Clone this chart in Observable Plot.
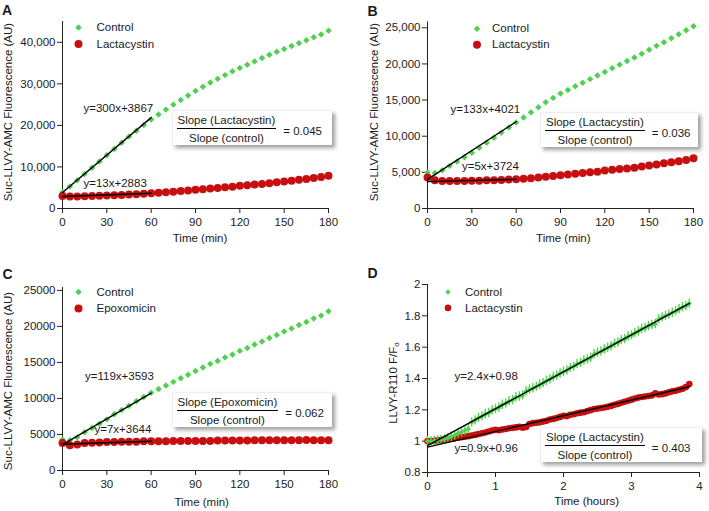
<!DOCTYPE html>
<html><head><meta charset="utf-8">
<script src="https://cdn.jsdelivr.net/npm/d3@7"></script>
<script src="https://cdn.jsdelivr.net/npm/@observablehq/plot@0.6"></script>
<style>
body{margin:0;background:#fff;}
#root{position:relative;width:709px;height:511px;font-family:"Liberation Sans",Arial,sans-serif;color:#1a1a1a;overflow:hidden;background:#fff}
.panel{position:absolute}
.letter{position:absolute;font-weight:bold;font-size:14px;line-height:1}
.ylab{position:absolute;transform:translate(-50%,-50%) rotate(-90deg);font-size:11.5px;white-space:nowrap;line-height:1}
.xlab{position:absolute;transform:translate(-50%,-50%);font-size:11.5px;white-space:nowrap;line-height:1}
.ylab sub{font-size:8px;vertical-align:-2px}
.ratio{position:absolute;background:#fff;box-shadow:3px 3px 4px rgba(0,0,0,0.38);display:flex;align-items:flex-start;font-size:11.5px;box-sizing:border-box;padding-left:4px;padding-top:2px;height:35px;border-top:1px solid #eee;border-left:1px solid #eee}
.frac{display:flex;flex-direction:column;align-items:center}
.num{border-bottom:1px solid #000;line-height:15px;padding:0 1px}
.den{line-height:14px;padding-top:2px}
.eq{margin-left:7px;margin-top:11px;line-height:14px}
</style>
</head><body>
<div id="root"></div>
<script>
// ---------- data ----------
const timeMin = [0,5,10,15,20,25,30,35,40,45,50,55,60,65,70,75,80,85,90,95,100,105,110,115,120,125,130,135,140,145,150,155,160,165,170,175,180];
const controlA = [3900,5300,6800,8300,9800,11300,12800,14300,15800,17300,18700,20100,21400,22600,23800,25000,26100,27200,28300,29300,30300,31200,32100,33000,33800,34600,35400,36200,37000,37700,38400,39100,39800,40500,41200,41900,42800];
const lactacystinA = [3000,2900,2900,2950,3000,3050,3100,3200,3250,3350,3450,3550,3650,3800,3900,4050,4200,4350,4500,4650,4800,4950,5100,5250,5450,5600,5750,5900,6100,6300,6500,6700,6900,7100,7350,7600,7900];
const controlB = [5000,4900,5300,5900,6500,7100,7700,8400,9100,9800,10500,11200,11900,12600,13300,14000,14700,15300,15900,16400,16900,17400,17900,18400,18900,19400,19900,20400,20900,21400,21950,22500,23000,23550,24100,24650,25200];
const lactacystinB = [4300,3900,3800,3800,3800,3800,3850,3850,3900,3900,3950,4000,4050,4100,4200,4300,4400,4500,4600,4700,4800,4900,5000,5100,5250,5350,5450,5550,5650,5800,5950,6100,6250,6400,6550,6700,6950];
const controlC = [4300,4200,4600,5300,5900,6500,7100,7800,8400,9000,9600,10200,10800,11300,11800,12300,12800,13300,13800,14300,14800,15200,15700,16100,16600,17000,17500,17900,18400,18800,19300,19700,20200,20600,21100,21500,22100];
const epoxomicinC = [3800,3500,3600,3800,3850,3900,3950,3950,4000,4000,4000,4050,4050,4050,4050,4100,4100,4100,4100,4100,4100,4150,4150,4150,4150,4150,4200,4200,4200,4200,4200,4200,4200,4250,4200,4200,4200];
const timeHours = [0,0.05,0.1,0.15,0.2,0.25,0.3,0.35,0.4,0.45,0.5,0.55,0.6,0.65,0.7,0.75,0.8,0.85,0.9,0.95,1,1.05,1.1,1.15,1.2,1.25,1.3,1.35,1.4,1.45,1.5,1.55,1.6,1.65,1.7,1.75,1.8,1.85,1.9,1.95,2,2.05,2.1,2.15,2.2,2.25,2.3,2.35,2.4,2.45,2.5,2.55,2.6,2.65,2.7,2.75,2.8,2.85,2.9,2.95,3,3.05,3.1,3.15,3.2,3.25,3.3,3.35,3.4,3.45,3.5,3.55,3.6,3.65,3.7,3.75,3.8,3.85];
const controlD = [1.000,1.000,1.003,1.005,1.008,1.012,1.020,1.028,1.038,1.050,1.058,1.068,1.078,
 1.120,1.133,1.148,1.158,1.172,1.180,1.196,1.205,1.215,1.232,
 1.240,1.255,1.262,1.280,1.285,1.292,1.318,1.330,1.338,1.348,
 1.360,1.370,1.385,1.395,1.410,1.418,1.432,1.443,1.452,1.468,
 1.476,1.492,1.500,1.515,1.522,1.532,1.555,1.565,1.572,1.585,
 1.596,1.606,1.622,1.630,1.645,1.652,1.668,1.676,1.690,1.700,
 1.716,1.722,1.735,1.742,1.748,1.778,1.790,1.800,1.808,1.820,
 1.830,1.842,1.855,1.862,1.878];
const lactacystinD = [1.000,1.000,1.002,1.005,1.008,1.010,1.013,1.015,1.018,1.022,
 1.025,1.028,1.032,1.036,1.040,1.045,1.050,1.055,1.062,1.068,
 1.072,1.070,1.074,1.078,1.082,1.085,1.088,1.092,1.086,1.090,
 1.110,1.115,1.118,1.120,1.125,1.130,1.138,1.142,1.148,1.155,
 1.162,1.160,1.168,1.172,1.178,1.182,1.185,1.192,1.198,1.205,
 1.208,1.212,1.215,1.220,1.225,1.232,1.238,1.245,1.252,1.258,
 1.265,1.272,1.278,1.282,1.285,1.288,1.292,1.305,1.298,1.300,
 1.305,1.312,1.318,1.322,1.328,1.335,1.345,1.365];
const errorD = 0.03;

// linear fits: [label, slope, intercept, from, to]
const fitsA = [["y=300x+3867",300,3867,0,60],["y=13x+2883",13,2883,0,60]];
const fitsB = [["y=133x+4021",133,4021,0,60],["y=5x+3724",5,3724,0,60]];
const fitsC = [["y=119x+3593",119,3593,0,60],["y=7x+3644",7,3644,0,60]];
const fitsD = [["y=2.4x+0.98",0.236,0.971,0,3.85],["y=0.9x+0.96",0.1,0.962,0,3.85]];

const ticksMin = [0,30,60,90,120,150,180];
const ticksHours = [0,1,2,3,4];
const ticksA = [0,10000,20000,30000,40000];
const ticksB = [0,5000,10000,15000,20000,25000];
const ticksC = [0,5000,10000,15000,20000,25000];
const ticksD = [0.8,1,1.2,1.4,1.6,1.8,2];

const seriesNamesA = ["Control","Lactacystin"];
const seriesNamesB = ["Control","Lactacystin"];
const seriesNamesC = ["Control","Epoxomicin"];
const seriesNamesD = ["Control","Lactacystin"];
const ratioA = ["Slope (Lactacystin)","Slope (control)","= 0.045"];
const ratioB = ["Slope (Lactacystin)","Slope (control)","= 0.036"];
const ratioC = ["Slope (Epoxomicin)","Slope (control)","= 0.062"];
const ratioD = ["Slope (Lactacystin)","Slope (control)","= 0.403"];

// ---------- styling ----------
const GREEN = "#50d050", RED = "#c80f0f", AXIS = "#222";
const FONT = "'Liberation Sans', Arial, sans-serif";
const root = document.getElementById("root");

function zipXY(xs, ys){ return xs.map((t,i)=>({t, v: ys[i]})); }

function makePanel(cfg){
  const ctrl = zipXY(cfg.time, cfg.ctrl);
  const trt = zipXY(cfg.time, cfg.trt);
  const marks = [];
  marks.push(Plot.axisX({ticks: cfg.xTicks, tickSize: 5, tickPadding: 4, tickFormat: d=>String(d), label: null}));
  marks.push(Plot.axisY({ticks: cfg.yTicks, tickSize: 5, tickPadding: 2, tickFormat: cfg.yFormat, label: null}));
  marks.push(Plot.ruleY([cfg.yDomain[0]], {stroke: AXIS}));
  marks.push(Plot.ruleX([cfg.xDomain[0]], {stroke: AXIS}));
  const ctrlMarks = [];
  if (cfg.err) ctrlMarks.push(Plot.ruleX(ctrl, {x:"t", y1: d=>d.v-cfg.err, y2: d=>d.v+cfg.err, stroke: GREEN, strokeWidth: 1.3}));
  ctrlMarks.push(Plot.dot(ctrl, {x:"t", y:"v", symbol:"diamond2", fill: GREEN, r: cfg.rG, stroke: null}));
  const trtMarks = [Plot.dot(trt, {x:"t", y:"v", symbol:"circle", fill: RED, r: cfg.rR, stroke: null})];
  if (cfg.redFirst) marks.push(...trtMarks, ...ctrlMarks); else marks.push(...ctrlMarks, ...trtMarks);
  for (const f of cfg.fits){
    const pts = [f[3], f[4]].map(t=>({t, v: f[1]*t + f[2]}));
    marks.push(Plot.line(pts, {x:"t", y:"v", stroke:"#000", strokeWidth: 1.4}));
  }
  // equation labels
  cfg.fits.forEach((f,i)=>{
    marks.push(Plot.text([f[0]], {frameAnchor:"top-left", dx: cfg.eqPos[i][0], dy: cfg.eqPos[i][1], text: d=>d, textAnchor:"start", lineAnchor:"middle", fontSize: 11.5, fill:"#1a1a1a"}));
  });
  // legend
  const L = cfg.legend;
  marks.push(Plot.dot([0], {frameAnchor:"top-left", dx: L.mx, dy: L.y1, symbol:"diamond2", fill: GREEN, r: cfg.rG, stroke:null}));
  marks.push(Plot.dot([0], {frameAnchor:"top-left", dx: L.mx, dy: L.y2, symbol:"circle", fill: RED, r: cfg.rR, stroke:null}));
  marks.push(Plot.text([cfg.names[0]], {frameAnchor:"top-left", dx: L.tx, dy: L.y1, text:d=>d, textAnchor:"start", lineAnchor:"middle", fontSize: 11.5, fill:"#1a1a1a"}));
  marks.push(Plot.text([cfg.names[1]], {frameAnchor:"top-left", dx: L.tx, dy: L.y2, text:d=>d, textAnchor:"start", lineAnchor:"middle", fontSize: 11.5, fill:"#1a1a1a"}));

  const svg = Plot.plot({
    width: cfg.w, height: cfg.h,
    marginLeft: cfg.m[0], marginRight: cfg.m[1], marginTop: cfg.m[2], marginBottom: cfg.m[3],
    x: {domain: cfg.xDomain},
    y: {domain: cfg.yDomain},
    style: {fontFamily: FONT, fontSize: "11.5px", color: AXIS, background: "transparent", overflow: "visible"},
    marks
  });
  const div = document.createElement("div");
  div.className = "panel";
  div.style.left = cfg.left + "px"; div.style.top = cfg.top + "px";
  div.appendChild(svg);
  root.appendChild(div);
}

function addText(cls, html, x, y){
  const d = document.createElement("div");
  d.className = cls; d.innerHTML = html;
  d.style.left = x + "px"; d.style.top = y + "px";
  root.appendChild(d);
}
function addRatio(r, x, y, w){
  const d = document.createElement("div");
  d.className = "ratio";
  d.style.left = x + "px"; d.style.top = y + "px"; d.style.width = w + "px";
  d.innerHTML = `<div class="frac"><div class="num">${r[0]}</div><div class="den">${r[1]}</div></div><div class="eq">${r[2]}</div>`;
  root.appendChild(d);
}

const commaFmt = d3.format(",");
makePanel({left:0, top:0, w:354, h:255, m:[62,26,21,47], time: timeMin, ctrl: controlA, trt: lactacystinA,
  xDomain:[0,180], yDomain:[0,45000], xTicks: ticksMin, yTicks: ticksA, yFormat: commaFmt,
  fits: fitsA, eqPos: [[21,86.5],[21,162]], names: seriesNamesA, legend:{mx:16, tx:34, y1:6, y2:22.5}, rG:2.9, rR:4});
makePanel({left:355, top:0, w:354, h:255, m:[72,16,21.5,47], time: timeMin, ctrl: controlB, trt: lactacystinB,
  xDomain:[0,180], yDomain:[0,25800], xTicks: ticksMin, yTicks: ticksB, yFormat: commaFmt,
  fits: fitsB, eqPos: [[23,87.5],[34.5,144]], names: seriesNamesB, legend:{mx:49.5, tx:64.5, y1:6.8, y2:22.8}, rG:2.9, rR:4});
makePanel({left:0, top:255, w:354, h:256, m:[62,26,32,41], time: timeMin, ctrl: controlC, trt: epoxomicinC,
  xDomain:[0,180], yDomain:[0,25400], xTicks: ticksMin, yTicks: ticksC, yFormat: d=>String(d),
  fits: fitsC, eqPos: [[22.5,88.5],[32,142]], names: seriesNamesC, legend:{mx:16, tx:34, y1:4.5, y2:21}, rG:2.9, rR:4});
makePanel({left:355, top:255, w:354, h:256, m:[72,10,29,39], time: timeHours, ctrl: controlD, trt: lactacystinD,
  xDomain:[0,4], yDomain:[0.8,2], xTicks: ticksHours, yTicks: ticksD, yFormat: d=>String(d),
  fits: fitsD, eqPos: [[27,91.5],[27,164]], names: seriesNamesD, legend:{mx:20.5, tx:37.5, y1:7.4, y2:23.4}, rG:2.4, rR:3.3, err: errorD, redFirst: true});

// panel letters
addText("letter","A",2,3);
addText("letter","B",367.5,4);
addText("letter","C",2.5,266.5);
addText("letter","D",367.5,266);
// axis titles
addText("ylab","Suc-LLVY-AMC Fluorescence (AU)",8.5,111.7);
addText("ylab","Suc-LLVY-AMC Fluorescence (AU)",375,111.7);
addText("ylab","Suc-LLVY-AMC Fluorescence (AU)",8.5,380.8);
addText("ylab","LLVY-R110 F/F<sub>o</sub>",393.5,383.3);
addText("xlab","Time (min)",200,239.3);
addText("xlab","Time (min)",563.3,239.3);
addText("xlab","Time (min)",201.7,502.7);
addText("xlab","Time (hours)",586.7,501.7);
// ratio boxes
addRatio(ratioA,171.5,110,160);
addRatio(ratioB,540,112,158);
addRatio(ratioC,171.5,392,160);
addRatio(ratioD,540,427,162);
</script>
</body></html>
